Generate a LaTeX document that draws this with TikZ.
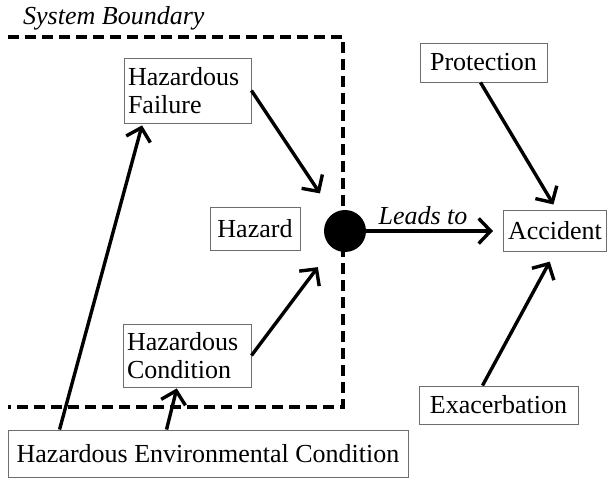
\documentclass[tikz,border=0pt]{standalone}
\usepackage{fontspec}
\setmainfont{Liberation Serif}
\usetikzlibrary{arrows.meta}
\definecolor{boxgray}{RGB}{110,110,110}
\begin{document}
\begin{tikzpicture}[x=1pt,y=-1pt,
  box/.style={draw=boxgray, line width=0.9pt, inner sep=4pt, font=\fontsize{26}{28}\selectfont, anchor=center},
  arr/.style={line width=3.4pt, -{Straight Barb[length=12pt,width=25pt]}},
  bound/.style={line width=3.5pt, dash pattern=on 11pt off 6pt},
  lbl/.style={font=\itshape\fontsize{26}{28}\selectfont, inner sep=0pt}]
\useasboundingbox (0,0) rectangle (607,478);

% system boundary
\draw[bound] (8,37) -- (343,37) -- (343,407) -- (8,407);
\node[lbl, anchor=base west] (sb) at (23,25) {System Boundary};

% boxes
\node[box, minimum width=127pt, minimum height=65pt, text width=119pt, align=left] (hf) at (187.5,90.5) {Hazardous\\Failure};
\node[box, minimum width=128pt, minimum height=63pt, text width=120pt, align=left] (hc) at (187,355.5) {Hazardous\\Condition};
\node[box, minimum width=90pt, minimum height=43pt] (hz) at (255,228.5) {Hazard};
\node[box, minimum width=103pt, minimum height=41pt] (acc) at (555,231) {Accident};
\node[box, minimum width=127pt, minimum height=39pt] (prot) at (483.5,62.5) {Protection};
\node[box, minimum width=159pt, minimum height=38pt] (ex) at (498.5,405) {Exacerbation};
\node[box, minimum width=400pt, minimum height=47pt] (hec) at (208,453.5) {Hazardous Environmental Condition};

% hazard point
\node[circle, fill=black, minimum size=42pt, inner sep=0pt] (dot) at (345,231) {};

% connectors
\draw[arr, shorten >=24pt] (hf.east) -- (dot);
\draw[arr, shorten >=24pt] (hc.east) -- (dot);
\draw[arr, shorten >=10pt] (dot.east) -- (acc.west);
\node[lbl, anchor=base] (lt) at (423,225) {Leads to};
\draw[arr, shorten >=3pt] ([xshift=-3pt]prot.south) -- ([yshift=3pt]acc.north);
\draw[arr, shorten >=11pt] ([xshift=-16pt]ex.north) -- (acc.south);
\draw[arr, shorten >=2pt] ([xshift=52pt]hec.north west) -- ([xshift=19pt]hf.south west);
\draw[arr, shorten >=1pt] ([xshift=159pt]hec.north west) -- ([xshift=-10pt]hc.south);
\end{tikzpicture}
\end{document}
